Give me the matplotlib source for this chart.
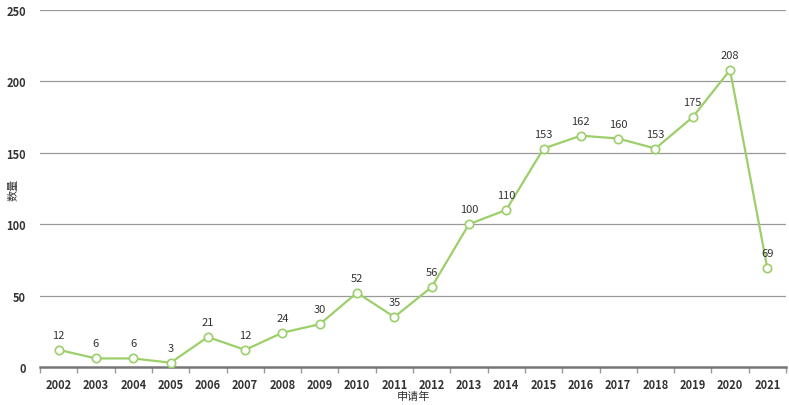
import numpy as np
import matplotlib.pyplot as plt

plt.rcParams['font.family'] = ['Noto Sans CJK SC', 'DejaVu Sans']

# data
years = ['2002', '2003', '2004', '2005', '2006', '2007', '2008', '2009', '2010', '2011',
         '2012', '2013', '2014', '2015', '2016', '2017', '2018', '2019', '2020', '2021']
counts = [12, 6, 6, 3, 21, 12, 24, 30, 52, 35, 56, 100, 110, 153, 162, 160, 153, 175, 208, 69]
yticks = [0, 50, 100, 150, 200, 250]

green = '#9ccf6a'

fig = plt.figure(figsize=(7.89, 4.06), dpi=100)
ax = fig.add_axes([0.0507, 0.0936, 0.9455, 0.8793])

x = np.arange(len(years))
ax.plot(x, counts, color=green, lw=1.6, marker='o', ms=6,
        markerfacecolor='white', markeredgecolor=green, markeredgewidth=1.2, zorder=3)
for xi, v in zip(x, counts):
    ax.text(xi, v + 7, str(v), ha='center', va='bottom', fontsize=8, color='#333333')

ax.set_xlim(-0.5, len(years) - 0.5)
ax.set_ylim(0, 250)
ax.set_yticks(yticks)
ax.set_yticklabels([str(t) for t in yticks], fontsize=8, color='#333333', fontweight='bold')
ax.set_xticks(x)
ax.set_xticklabels(years, fontsize=8, color='#333333', fontweight='bold')
ax.set_xticks(np.arange(len(years) + 1) - 0.5, minor=True)
ax.tick_params(axis='x', which='major', length=0, pad=8)
ax.tick_params(axis='x', which='minor', length=4, color='#999999', width=1)
ax.tick_params(axis='y', length=0, pad=10)

for t in yticks[1:]:
    ax.axhline(t, color='#999999', lw=0.9, zorder=1)

for s in ['top', 'right', 'left']:
    ax.spines[s].set_visible(False)
ax.spines['bottom'].set_color('#777777')
ax.spines['bottom'].set_linewidth(1.8)

ax.set_xlabel('申请年', fontsize=8, color='#333333', labelpad=0)
ax.set_ylabel('数量', fontsize=8, color='#333333')
ax.yaxis.set_label_coords(-0.029, 0.5)

fig.savefig('out.png', dpi=100)
